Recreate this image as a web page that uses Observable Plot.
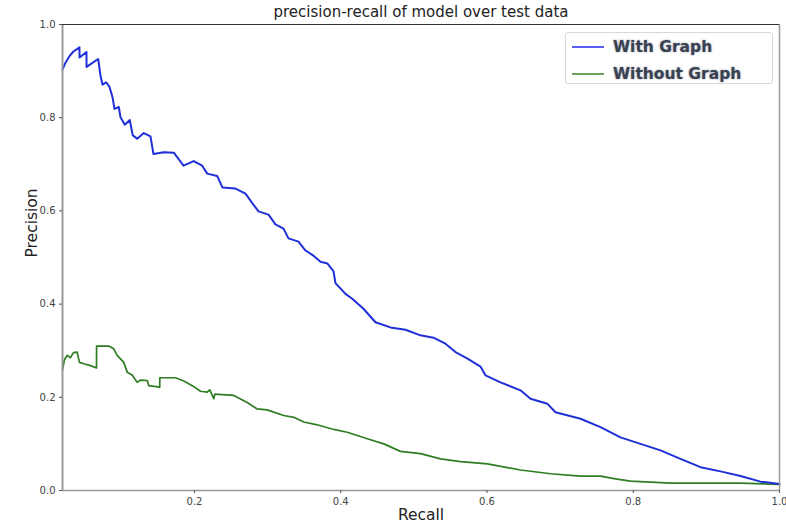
<!DOCTYPE html>
<html>
<head>
<meta charset="utf-8">
<script src="https://cdn.jsdelivr.net/npm/d3@7"></script>
<script src="https://cdn.jsdelivr.net/npm/@observablehq/plot@0.6"></script>
<style>
  html, body { margin: 0; padding: 0; background: #fff; }
  #wrap { position: relative; width: 786px; height: 523px; font-family: "DejaVu Sans", sans-serif; }
  #legend { position: absolute; left: 565px; top: 32px; width: 206px; height: 50px; border: 1px solid #d8d8d8; border-radius: 3px; background: #fff; }
  .li { position: absolute; left: 0; height: 27px; width: 206px; }
  .sw { position: absolute; left: 6px; top: 12px; width: 32px; height: 2px; }
  .lt { position: absolute; left: 47px; top: 4px; font-weight: bold; font-size: 15.5px; color: #3a4252; text-shadow: 0 0 2px rgba(60,70,90,0.6); white-space: nowrap; }
</style>
</head>
<body>
<div id="wrap"></div>
<script>
const titleText = "precision-recall of model over test data";
const xLabel = "Recall";
const yLabel = "Precision";
const seriesNames = ["With Graph", "Without Graph"];
const seriesColors = ["#1f30d8", "#2f7d22"];
const xTicks = [0.2, 0.4, 0.6, 0.8, 1.0];
const yTicks = [0.0, 0.2, 0.4, 0.6, 0.8, 1.0];

const withRecall = [0.0195,0.0236,0.029,0.0345,0.0427,0.0428,0.0523,0.0524,0.0683,0.0715,0.0742,0.0792,0.0838,0.0879,0.0906,0.0965,0.0988,0.1047,0.1115,0.1156,0.1216,0.1307,0.1398,0.1439,0.158,0.1717,0.185,0.199,0.2105,0.2174,0.231,0.2383,0.2561,0.2697,0.2793,0.2875,0.3012,0.3107,0.3217,0.3285,0.3422,0.3518,0.3627,0.3723,0.3819,0.39,0.3928,0.4065,0.4161,0.4311,0.4475,0.468,0.4885,0.509,0.5268,0.5432,0.5569,0.5733,0.5911,0.598,0.6185,0.6458,0.6595,0.6827,0.6937,0.7279,0.7552,0.7826,0.8099,0.8373,0.8646,0.892,0.9193,0.9467,0.974,1.0];
const withPrecision = [0.903,0.918,0.932,0.942,0.951,0.929,0.941,0.909,0.926,0.890,0.871,0.876,0.866,0.844,0.819,0.823,0.801,0.785,0.795,0.762,0.755,0.767,0.760,0.722,0.726,0.725,0.697,0.707,0.697,0.680,0.675,0.650,0.648,0.637,0.616,0.599,0.592,0.571,0.562,0.541,0.534,0.515,0.504,0.491,0.487,0.471,0.445,0.422,0.411,0.390,0.361,0.350,0.345,0.333,0.328,0.315,0.297,0.283,0.266,0.247,0.232,0.215,0.197,0.186,0.168,0.154,0.136,0.114,0.100,0.086,0.068,0.050,0.041,0.031,0.019,0.014];

const withoutRecall = [0.0195,0.022,0.0259,0.0304,0.0345,0.0396,0.0427,0.0486,0.0578,0.066,0.0661,0.0828,0.0896,0.0943,0.1033,0.108,0.1148,0.1216,0.1262,0.1353,0.1375,0.1525,0.1526,0.174,0.1854,0.1969,0.2082,0.2174,0.2209,0.2264,0.2278,0.2537,0.2721,0.2857,0.2994,0.3221,0.3358,0.3495,0.3678,0.3905,0.4088,0.4362,0.4589,0.4817,0.5091,0.5364,0.5638,0.6007,0.6458,0.6868,0.7279,0.7552,0.7758,0.7963,0.851,0.9467,1.0];
const withoutPrecision = [0.258,0.280,0.290,0.285,0.296,0.297,0.275,0.272,0.268,0.263,0.310,0.310,0.304,0.290,0.275,0.254,0.248,0.232,0.237,0.236,0.225,0.222,0.242,0.242,0.235,0.225,0.213,0.211,0.216,0.197,0.207,0.204,0.189,0.175,0.173,0.161,0.157,0.147,0.141,0.131,0.125,0.111,0.100,0.084,0.079,0.068,0.062,0.057,0.044,0.036,0.031,0.031,0.025,0.020,0.016,0.016,0.013];

const withData = withRecall.map((r, i) => ({r, p: withPrecision[i]}));
const withoutData = withoutRecall.map((r, i) => ({r, p: withoutPrecision[i]}));

const xMin = 0.0195;

const chart = Plot.plot({
  width: 786,
  height: 523,
  marginLeft: 62,
  marginRight: 7,
  marginTop: 24,
  marginBottom: 33,
  style: { fontFamily: "DejaVu Sans, sans-serif", fontSize: "10px", background: "#fff", color: "#333" },
  x: { domain: [xMin, 1.0], label: null },
  y: { domain: [0, 1.0], label: null },
  marks: [
    Plot.line(withoutData, { x: "r", y: "p", stroke: seriesColors[1], strokeWidth: 1.7 }),
    Plot.line(withData, { x: "r", y: "p", stroke: seriesColors[0], strokeWidth: 2 }),
    Plot.ruleY([0], { stroke: "#999", strokeWidth: 1.5 }),
    Plot.ruleX([1.0], { stroke: "#999", strokeWidth: 1.5 }),
    Plot.ruleX([xMin], { stroke: "#999", strokeWidth: 2 }),
    Plot.ruleY([1.0], { stroke: "#333", strokeWidth: 1 }),
    Plot.axisX(xTicks, { tickSize: 3, tickPadding: 4, tickFormat: d3.format(".1f"), stroke: "#555", fill: "#444", fontSize: 10 }),
    Plot.axisY(yTicks, { tickSize: 3, tickPadding: 4, tickFormat: d3.format(".1f"), stroke: "#555", fill: "#444", fontSize: 10 }),
    Plot.text([titleText], { text: d => d, frameAnchor: "top", lineAnchor: "middle", dy: -12, fontSize: 15, fill: "#222" }),
    Plot.text([xLabel], { text: d => d, frameAnchor: "bottom", lineAnchor: "middle", dy: 25, fontSize: 15.5, fill: "#222" }),
    Plot.text([yLabel], { text: d => d, frameAnchor: "left", dx: -30, rotate: -90, fontSize: 15.5, fill: "#222" })
  ]
});

const wrap = document.getElementById("wrap");
wrap.appendChild(chart);

const legend = document.createElement("div");
legend.id = "legend";
seriesNames.forEach((name, i) => {
  const item = document.createElement("div");
  item.className = "li";
  item.style.top = (i * 27 + 1) + "px";
  const sw = document.createElement("div");
  sw.className = "sw";
  sw.style.background = i === 0 ? "#5a5cf2" : "#6aa45a";
  const lt = document.createElement("div");
  lt.className = "lt";
  lt.textContent = name;
  item.appendChild(sw);
  item.appendChild(lt);
  legend.appendChild(item);
});
wrap.appendChild(legend);
</script>
</body>
</html>
